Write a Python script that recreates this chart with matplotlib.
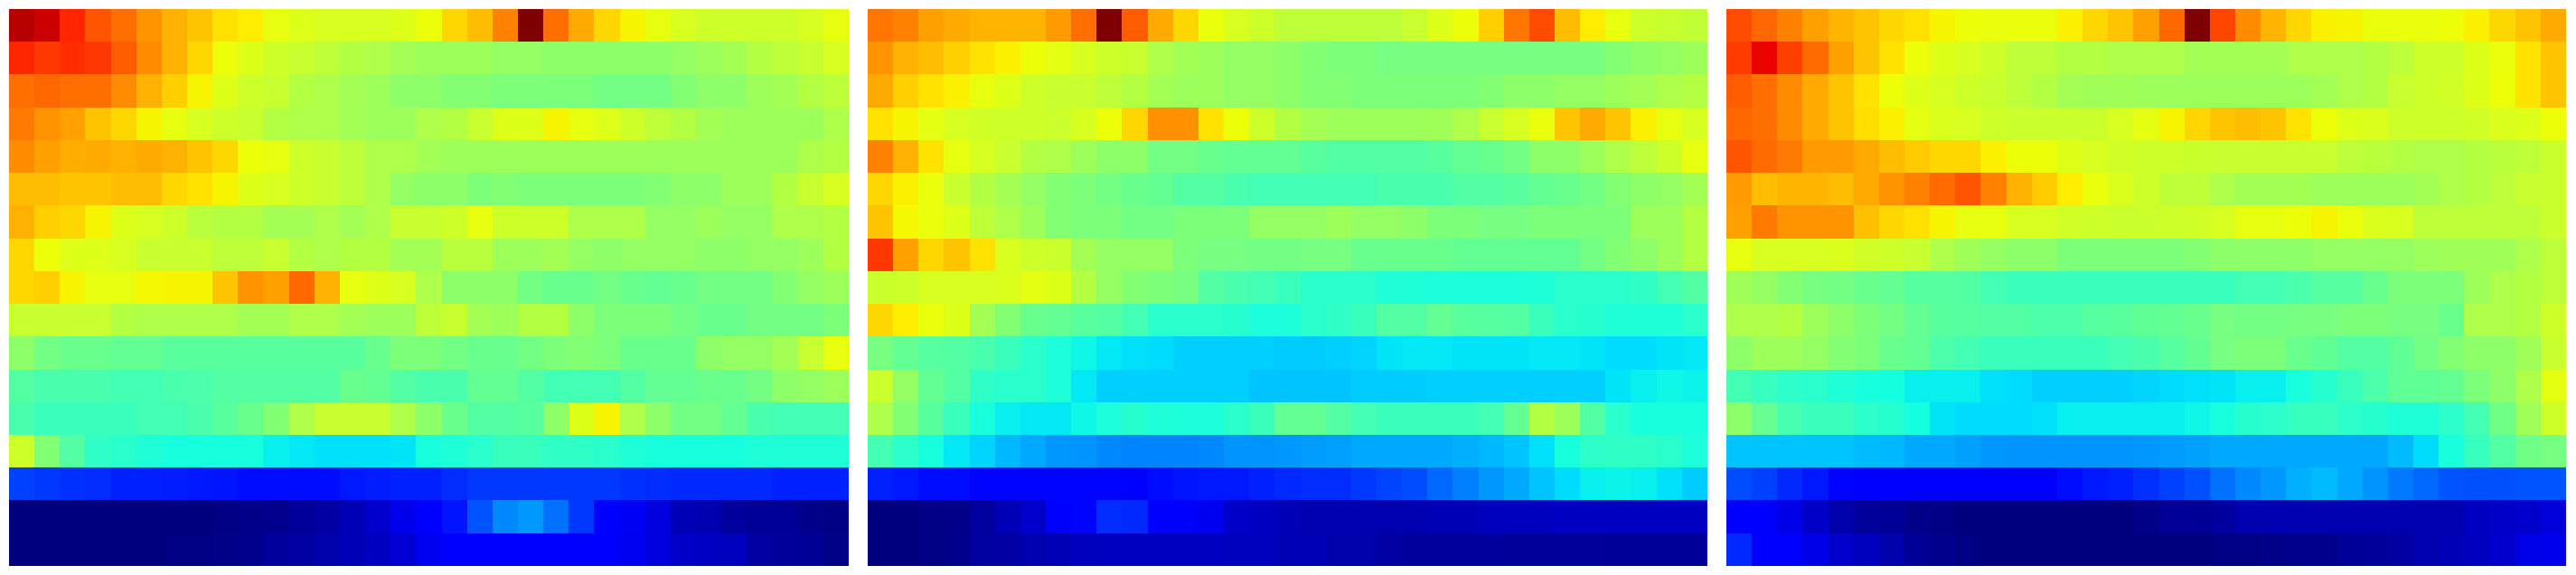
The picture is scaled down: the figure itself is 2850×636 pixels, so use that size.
import numpy as np
import matplotlib
matplotlib.use("Agg")
import matplotlib.pyplot as plt

# values, 0-100 on the jet scale, top row first
panel_1 = [
    [95,93,87,82,79,75,72,70,67,66,63,62,61,61,61,62,64,68,71,77,100,79,73,68,65,63,61,60,60,60,60,61,63],
    [87,85,86,85,81,76,72,68,64,62,60,59,58,57,56,55,54,54,54,53,53,52,52,52,52,52,53,54,55,57,58,59,61],
    [79,80,79,79,76,72,69,65,62,60,59,57,56,55,54,52,52,51,51,50,50,50,50,49,49,49,51,52,52,54,55,57,58],
    [78,75,74,70,68,65,63,61,60,59,57,56,56,55,54,54,56,57,59,62,62,65,63,62,60,58,57,55,54,54,54,54,56],
    [76,74,72.5,73,72,73,72,70,68,64,63,60,59,58,56,56,55,54,54,54,54,54,54,54,54,54,54,54,54,54,54,56,57],
    [71,71,70,70,71,71,68,67,65,62,61,60,59,58,56,53,52,52,50,51,50,50,50,50,50,51,52,52,54,54,57,59,61],
    [72,69,68,65,62,61,60,57.5,57,57,55,55,56,55,56,59,59,60,63,60,60,60,56,56,56,53,53,54,53,53,56,56,57],
    [68,64,62,62,61,59,59,59,58,58,59,57,56,57,57,55,55,57.5,57.5,54,54,55,53,52,53,53,53,52,52,53,53,54,57],
    [68,69,65,63,63,64.5,65,65,70,75,74,80,72,63,62,61,56,52,52,52,49,48,48,49,48,47,48,49,49,49,51,53,54],
    [59,59,59,59,57,56,56,56,56,55,55,56,56,55,54,54,58,59,55,54,57,57,52,50,50,50,49,48,48,49,49,49,50],
    [52,49,48,48,47,47,46,46,46,46,46,46,46,46,48,50,50,49,48,48,49,50,51,50,48,48,48,52,53,53,55,59,63],
    [45,44,44,44,43,43,44,44.5,45,45,45,45,45,48,47,45,44,44,47,47,45,43,43,43,45,47,47,48,48,49,52,53,54],
    [44,42,42,42,42,43,43,44,46,48,51,56,59,59,59,56,52,48,45,45,46,52,62,65,56,52,49,49,47,44,43,43,43],
    [60,51,45,41,40,39,38,38,38,38,36,35.5,34.5,34.5,34.5,35,38,39,40,42,42,41,41,40,39,38,38,38,38,39,39,39,39],
    [19,18,17.5,17,16,16,15.5,15,14.5,14,14,14,14,15,15.5,16,16,17,18,18,18,18,18,18,17.5,17,16.5,16.5,16.5,16.5,16,16,16],
    [0,0,0,0,0,0,0,0,.5,1,1.5,2.5,3.5,5,7,9.5,11.5,14.5,21,26,27.5,23.5,18,12,10.5,8.5,5,4.5,3,2,2,1,.5],
    [0,0,0,0,0,0,.5,.5,1,1.5,3,3.5,4,5,6,7.5,10,11,11.5,12,12,12,12,11,10,8.5,6.5,6,5.5,3.5,2.5,2,1],
]

panel_2 = [
    [78.5,77,74,73,71.5,71.5,71.5,74.5,79,100,81,73,68,63.5,61,60,58,58,58,58,58,59,62,64,69,78.5,83,71,66,63,60,59,58.5],
    [75,72,71,69,67,65.5,64,62.5,61,60,59,56,55,54,53,53,52,51,50,50,49.5,49.5,49.5,49.5,49.5,49.5,49.5,49.5,49.5,51,52,53,54],
    [73,69,67,65.5,63,62,60,59,59,58,57,55,54,54,53,53,52,51,51,50,50,50,50,50,51,52,52,53,53,54,55,56,57],
    [67,65,62.5,61,60.5,60,60,59.5,61,64,68,75.5,75.5,67,64,60,57,55,54,54,54,54,54.5,56,59,61,63.5,70,73,70,65.5,63,61],
    [77,72,67,63,61,59,57,56,54,52,52,49,49,48,47,47,47,46,45,45,45,45,46,47,48,49,52,52,54,56,58,60,63],
    [68,65.5,63.5,59.5,57,55,53,51,50,49,48,47,45,45,44,43,43,43,43,43,44,44,44,45,45,46,47,48,49,51,52,53,55],
    [70,64.5,63.5,62,58,56,54,51,50,50,49,49,50,50,50,53,53,53,54,53,53,52,50,50,49.5,49.5,50,50,50,50,54,54,57],
    [85,74,68,70,67,61,60,59.5,55,53,53,53,50,49.5,49.5,49,49,49.5,49.5,48,48,48,48,47,47,47,47,47,49,51,52,54,57],
    [59.5,60,61,61,61,61.5,62.5,62,57,53,51,50,49.5,45,44,43,42,40,40,40,39,39,38.5,38.5,38.5,38.5,39,40,40,40,41,43,45],
    [68,66,63.5,62,55,51,48,47,46,45,43,40,40,40,39.5,38.5,38.5,40,41,42,45,45,47,46,45.5,45,42,40,39.5,39,39,39,40],
    [49.5,47,45.5,45,44,42,40,38.5,37,35.5,34.5,34,33,33,33,33,32.5,32.5,33,33.5,35,35.5,35.5,35,35,35,35.5,35.5,35,34,34,35,35.5],
    [59.5,53,47,45,41,40,40,38.5,35.5,33,33,33,33,33,33,32,32,32,32,32.5,32.5,32.5,33,33,33,33,33,33,33,35,36,37,36.5],
    [56,51,46,42,38,36,35.5,35.5,37,38.5,39.5,39,38.5,38.5,40,42,47,47,45,43,42,42,42,42,43,47,57,54,45,40,38,38,38],
    [43,40.5,38,35.5,33.5,30.5,29,27.5,27,26,25.5,25.5,25.5,26,27,27,27.5,28,28.5,29,29,29,29,30,30.5,32,34.5,38,40.5,41,41,40,38.5],
    [16,15,14,14,13,13,13,13,13,13,12.5,14,14.5,15,15,16,16.5,17,17,18,19.5,20,23,25,27.5,29,32,34,36,36.5,36,34.5,32.5],
    [0,0,.5,1,3,5,7,12,13,17,16.5,12,12,10,6.5,6,5,4.5,4.5,4.5,4.5,4.5,5,5,5.5,5.5,5.5,6,6,6,6,6,6],
    [0,0,.5,1.5,3,3.5,4.5,5,5.5,6,6,6,6,6,5.5,5.5,5,5,4,4,3.5,3,3,3,3,2.5,2.5,2.5,2.5,2,2,2,2],
]

panel_3 = [
    [82.5,80,77,74,71.5,70,68,67,65,64,63.5,63.5,63.5,65.5,68,70,74,80,100,83.5,76,71.5,68,65.5,65,63.5,63.5,63.5,64,65.5,68,70,73],
    [84.5,90.5,84,79.5,74,70,67,64,62,61,60,58,58,57,57,56,56,56,55,55,55,55,56,56,56,57,58,60,60,62,63.5,67,70],
    [81,79,76,73,70,67,64,62,61,60,59,58,57,55,54.5,54.5,54,54,54,54,54,54,54,55,56,57,59,60,60.5,62,64,67,70],
    [80,79,76,73,70,67.5,65.5,62.5,61.5,61,60,59.5,59.5,59.5,59.5,61,62.5,65,68,70,71,70,67,64,62,61.5,60,60,60,60.5,61.5,62,64],
    [82,79.5,78,74.5,74.5,73,71,69.5,68,68,65.5,64,64,62,61,60.5,60,60,59.5,59,59,59,59,59,58,57.5,57,56,56,57,57.5,58,59.5],
    [74.5,71,71.5,71.5,71,73,75,77,79.5,82,77,72,69.5,66,63.5,61.5,60,58,58,56,55,55,55,54,54,54,54,55,56,57,58,59,59.5],
    [74,78,75,75,75,70.5,68,67,65,63,63,61,61,60.5,60,59.5,59.5,60,60.5,61,63,63,64,65,63.5,61.5,61,58,58,58,58,58,59.5],
    [63,61,61,61,61.5,60.5,60,59,56,54.5,53,52,52,50,50,50,50,50,51,52,52,52,52,53,53,53,53,54,54.5,54.5,54.5,56,58],
    [54.5,53,51,49.5,49,48,47,45.5,45.5,45,43,42,42,42,42,42,42,42,42,42,43,43,44.5,45.5,45.5,48,50,50,50,54,56,57,58],
    [56,56,57,54,52,50,49,47,46,45.5,45,45,44.5,44.5,45.5,46,46.5,47,48,49.5,49,49,49.5,49.5,50,50,49.5,49.5,48,56,56,57,60],
    [52,54,54,53,51,50,48,47,44.5,43,42,42,42,42,42,43,44,45.5,47,49.5,50,50,48,46.5,45,45,46.5,49,51,52,52,54.5,59],
    [43,41.5,40.5,40,39,38,37.5,36,36,36,34.5,34,33,33,33,33,33.5,34,34.5,35,36,36,38,39.5,42,44.5,46.5,46.5,47,50,52,56,62.5],
    [52,47.5,43.5,42,42,40.5,39.5,37.5,35,34,34,34,34.5,36,36,36,36,36,37,38,39.5,40.5,41.5,41.5,40.5,39.5,39,39,40.5,43,48.5,54.5,60],
    [32,32,32,32,32,31,30.5,29,29,28.5,27.5,27,27,27,27,27,27.5,28,28.5,29,29,29,29,29,29,29,31,34,38,41.5,45,48.5,49.5],
    [20,19,16.5,15,13,12,12,12,12,12,12,12,12.5,14,15,16,17.5,19,20.5,23.5,26,27.5,30,31,29,27,24.5,23,21,20.5,20.5,21,21],
    [12,11,9,6.5,4,2.5,2,1,.5,0,0,0,0,0,0,0,1,2,2,3,4.5,4.5,4.5,4.5,4.5,4.5,4.5,4.5,4.5,6,6.5,7,8],
    [16.5,12,12,9,7,5.5,4,2,1.5,.5,0,0,0,0,0,0,0,0,0,.5,.5,1,1.5,1.5,2,2.5,3.5,4.5,5,5.5,7,9,9.5],
]

fig_w = 2850
fig_h = 636
lefts = [10, 960, 1910]
panel_w = 929
top = 10
panel_h = 616

fig = plt.figure(figsize=(fig_w / 100, fig_h / 100), dpi=100)
for left, panel in zip(lefts, [panel_1, panel_2, panel_3]):
    ax = fig.add_axes([left / fig_w, 1 - (top + panel_h) / fig_h, panel_w / fig_w, panel_h / fig_h])
    ax.imshow(np.array(panel), cmap="jet", vmin=0, vmax=100, aspect="auto", interpolation="nearest")
    ax.axis("off")

fig.savefig("out.png", dpi=100)
